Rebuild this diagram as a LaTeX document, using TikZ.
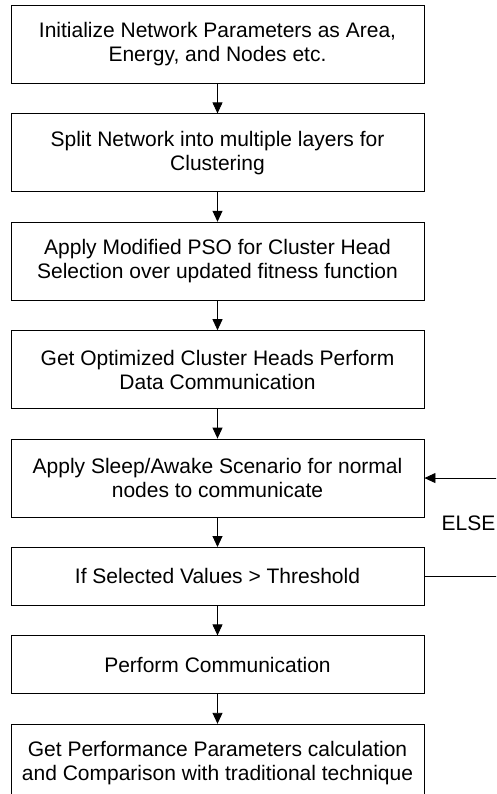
\documentclass[tikz,border=0pt]{standalone}
\usepackage{fontspec}
\setmainfont{Liberation Sans}
\usepackage{tikz}
\usetikzlibrary{positioning}
\usetikzlibrary{arrows.meta}

\tikzset{
    procbox/.style={draw, line width=0.9pt, minimum width=413pt, minimum height=78pt,
        align=center, font=\fontsize{21}{24}\selectfont, inner sep=2pt},
    shortbox/.style={procbox, minimum height=58pt},
    flow/.style={-{Triangle[length=11pt,width=10pt]}, line width=0.9pt}
}

\begin{document}
\begin{tikzpicture}[x=1pt, y=1pt, node distance=29.5pt]
    \useasboundingbox (0,0) rectangle (496,-794);
    \clip (0,0) rectangle (496,-794);

    % Initialization
    \node[procbox, anchor=north] (init) at (217.5,-5)
        {Initialize Network Parameters as Area,\\Energy, and Nodes etc.};

    % Layering
    \node[procbox, below=of init] (split)
        {Split Network into multiple layers for\\Clustering};

    % PSO selection
    \node[procbox, below=of split] (pso)
        {Apply Modified PSO for Cluster Head\\Selection over updated fitness function};

    % Optimized heads
    \node[procbox, below=of pso] (heads)
        {Get Optimized Cluster Heads Perform\\Data Communication};

    % Sleep / awake
    \node[procbox, below=of heads] (sleep)
        {Apply Sleep/Awake Scenario for normal\\nodes to communicate};

    % Threshold check
    \node[shortbox, below=of sleep] (cond)
        {If Selected Values > Threshold};

    % Communication
    \node[shortbox, below=of cond] (comm)
        {Perform Communication};

    % Results
    \node[procbox, below=of comm] (perf)
        {Get Performance Parameters calculation\\and Comparison with traditional technique};

    % Main flow
    \draw[flow] (init) -- (split);
    \draw[flow] (split) -- (pso);
    \draw[flow] (pso) -- (heads);
    \draw[flow] (heads) -- (sleep);
    \draw[flow] (sleep) -- (cond);
    \draw[flow] (cond) -- (comm);
    \draw[flow] (comm) -- (perf);

    % Else loop
    \coordinate (loopR) at (520,0);
    \draw[flow] (cond.east) -- (cond.east -| loopR) |- (sleep.east);
    \node[anchor=base west, inner sep=0pt, font=\fontsize{21}{24}\selectfont]
        (elselbl) at (441.5,-530) {ELSE};
\end{tikzpicture}
\end{document}
